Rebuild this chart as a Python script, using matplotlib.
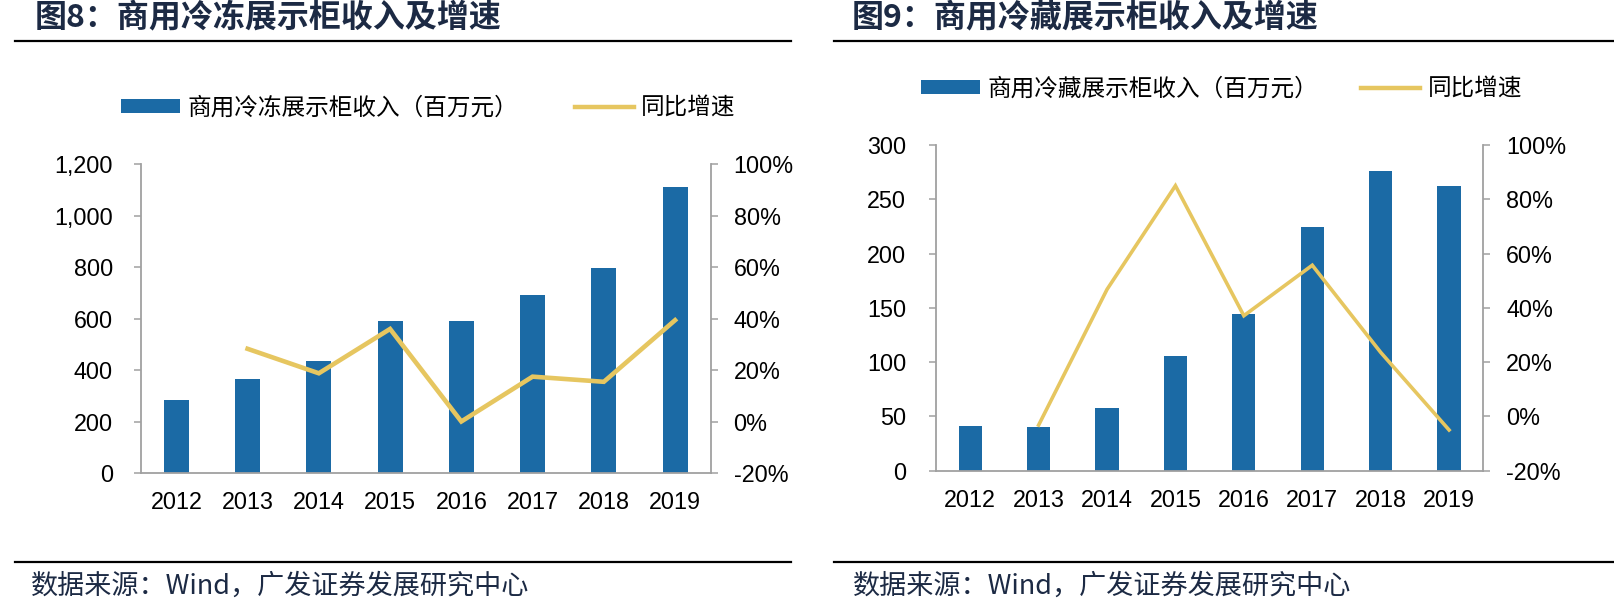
import matplotlib
matplotlib.use("Agg")
import matplotlib.pyplot as plt
from matplotlib.lines import Line2D
from matplotlib.patches import Patch
from matplotlib.ticker import FuncFormatter, MultipleLocator
import numpy as np

plt.rcParams['font.family'] = ['Liberation Sans', 'Noto Sans CJK SC', 'DejaVu Sans']

years = ['2012', '2013', '2014', '2015', '2016', '2017', '2018', '2019']

# Figure 8: commercial freezer display cabinets
freezer_rev = [285, 366, 435, 589, 589, 691, 797, 1109]
freezer_yoy = [np.nan, 28.3, 18.8, 36.0, 0.1, 17.5, 15.5, 39.4]

# Figure 9: commercial refrigerated display cabinets
fridge_rev = [41.1, 39.9, 58.0, 105.6, 144.6, 224.2, 275.7, 262.5]
fridge_yoy = [np.nan, -3.2, 46.8, 85.0, 37.1, 55.7, 23.6, -5.0]

title_left = '图8：商用冷冻展示柜收入及增速'
title_right = '图9：商用冷藏展示柜收入及增速'
bar_label_left = '商用冷冻展示柜收入（百万元）'
bar_label_right = '商用冷藏展示柜收入（百万元）'
line_label = '同比增速'
source = '数据来源：Wind，广发证券发展研究中心'

W, H = 1614, 602
BAR = '#1B6AA5'
LINE = '#E6C660'
GRAY = '#A0A0A0'
NAVY = '#1C2A44'
CJK = ['Noto Sans CJK SC', 'DejaVu Sans']

fig = plt.figure(figsize=(W / 100, H / 100), dpi=100)


def rect(x0, y0, x1, y1):
    return [x0 / W, 1 - y1 / H, (x1 - x0) / W, (y1 - y0) / H]


def make_chart(box, rev, yoy, ymax, ystep, yfmt, bar_w, lw, ypad, bar_label,
               leg_xy, colspace):
    ax = fig.add_axes(rect(*box))
    x = np.arange(len(years))
    ax.bar(x, rev, width=bar_w, color=BAR, zorder=2)
    ax.set_xlim(-0.5, len(years) - 0.5)
    ax.set_ylim(0, ymax)
    ax.yaxis.set_major_locator(MultipleLocator(ystep))
    ax.yaxis.set_major_formatter(FuncFormatter(yfmt))
    ax.set_xticks(x)
    ax.set_xticklabels(years)
    ax.tick_params(axis='x', length=0, pad=13, labelsize=16.8)
    ax.tick_params(axis='y', length=5, width=1.1, color=GRAY, pad=ypad, labelsize=16.8)
    for s in ['top', 'right']:
        ax.spines[s].set_visible(False)
    for s in ['left', 'bottom']:
        ax.spines[s].set_color(GRAY)
        ax.spines[s].set_linewidth(1.3)

    ax2 = ax.twinx()
    ax2.plot(x, yoy, color=LINE, lw=lw, zorder=3, solid_joinstyle='miter')
    ax2.set_ylim(-20, 100)
    ax2.yaxis.set_major_locator(MultipleLocator(20))
    ax2.yaxis.set_major_formatter(FuncFormatter(lambda v, p: f'{v:.0f}%'))
    ax2.tick_params(axis='y', length=5, width=1.1, color=GRAY, pad=11.5, labelsize=16.8)
    for s in ['top', 'left', 'bottom']:
        ax2.spines[s].set_visible(False)
    ax2.spines['right'].set_color(GRAY)
    ax2.spines['right'].set_linewidth(1.3)

    handles = [Patch(facecolor=BAR, edgecolor='none'),
               Line2D([0], [0], color=LINE, lw=3.2)]
    fig.legend(handles, [bar_label, line_label], ncol=2, frameon=False,
               loc='center left',
               bbox_to_anchor=(leg_xy[0] / W, 1 - leg_xy[1] / H),
               borderpad=0, borderaxespad=0, handlelength=2.5,
               handleheight=0.55, handletextpad=0.32, columnspacing=colspace,
               prop={'family': CJK, 'size': 17})
    return ax, ax2


make_chart((140.7, 164, 710.7, 473.3), freezer_rev, freezer_yoy, 1200, 200,
           lambda v, p: f'{v:,.0f}', 0.35, 3.3, 15, bar_label_left, (120.5, 108), 2.4)
make_chart((936, 145, 1483.3, 470.7), fridge_rev, fridge_yoy, 300, 50,
           lambda v, p: f'{v:.0f}', 0.34, 2.6, 16.5, bar_label_right, (921, 89), 1.8)

# titles
fig.text(35 / W, 1 - 17.5 / H, title_left, family=CJK, fontsize=23,
         fontweight='bold', color=NAVY, va='center', ha='left')
fig.text(852 / W, 1 - 17.5 / H, title_right, family=CJK, fontsize=23,
         fontweight='bold', color=NAVY, va='center', ha='left')

# separator lines
for (x0, x1) in [(15, 791), (834, 1613)]:
    for yy in [40.7, 561.7]:
        fig.add_artist(Line2D([x0 / W, x1 / W], [1 - yy / H, 1 - yy / H],
                              color='black', lw=1.6, transform=fig.transFigure))

# sources
fig.text(31 / W, 1 - 586 / H, source, family=CJK, fontsize=19.5,
         color=NAVY, va='center', ha='left')
fig.text(853 / W, 1 - 586 / H, source, family=CJK, fontsize=19.5,
         color=NAVY, va='center', ha='left')

fig.savefig('out.png', dpi=100)
